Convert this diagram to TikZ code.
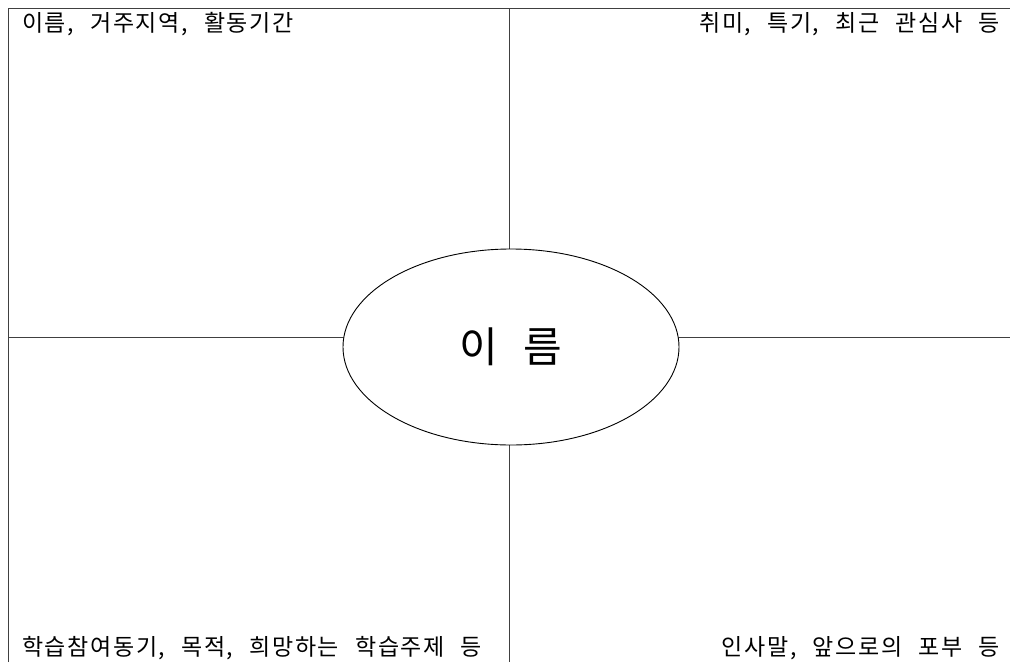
\documentclass[tikz,border=0pt]{standalone}
\usepackage{fontspec}
\usetikzlibrary{shapes.geometric}
\setmainfont{Noto Sans CJK KR}
\newfontfamily\labelfont[WordSpace=2.4,LetterSpace=7]{Noto Sans CJK KR}
\begin{document}
\begin{tikzpicture}[x=1pt,y=-1pt,
  frame/.style={draw=black!75,line width=0.9pt},
  corner/.style={font=\labelfont\fontsize{23}{25}\selectfont,inner sep=0pt},
  namebox/.style={draw=black,line width=0.9pt,fill=white,ellipse,minimum width=336pt,minimum height=196pt,inner sep=0pt,font=\fontsize{42}{44}\selectfont}]
\useasboundingbox (0,0) rectangle (1010,662);
\coordinate (tl) at (8,8);
\coordinate (tr) at (1010,8);
\coordinate (bl) at (8,662);
\coordinate (vt) at (509,8);
\coordinate (vb) at (509,662);
\coordinate (hl) at (8,337);
\coordinate (hr) at (1010,337);
\draw[frame] (bl) -- (tl) -- (tr);
\draw[frame] (vt) -- (vb);
\draw[frame] (hl) -- (hr);
\node[namebox] (name) at (511,347) {이\hspace{0.6em}름};
\node[corner,anchor=base west] (t1) at (22,31) {이름, 거주지역, 활동기간};
\node[corner,anchor=base east] (t2) at (1000,31) {취미, 특기, 최근 관심사 등};
\node[corner,anchor=base west] (t3) at (22,655) {학습참여동기, 목적, 희망하는 학습주제 등};
\node[corner,anchor=base east] (t4) at (1000,655) {인사말, 앞으로의 포부 등};
\end{tikzpicture}
\end{document}
